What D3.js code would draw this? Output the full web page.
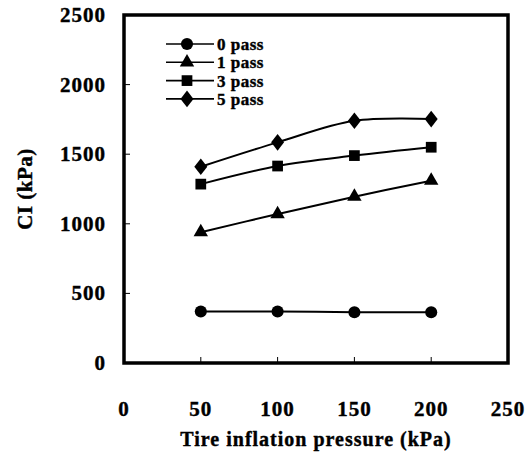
<!DOCTYPE html>
<html>
<head>
<meta charset="utf-8">
<script src="https://cdn.jsdelivr.net/npm/d3@7"></script>
<style>
  body { margin: 0; background: #fff; }
  text { font-family: "Liberation Serif", "DejaVu Serif", serif; font-weight: bold; fill: #000; stroke: #000; stroke-width: 0.4px; }
</style>
</head>
<body>
<svg width="529" height="455"></svg>
<script>
const pressure = [50, 100, 150, 200];
const pass0 = [370, 370, 365, 365];
const pass1 = [940, 1070, 1195, 1310];
const pass3 = [1285, 1415, 1490, 1550];
const pass5 = [1410, 1585, 1740, 1752];
const seriesNames = ['0pass', '1pass', '3pass', '5pass'];
const xTicks = [0, 50, 100, 150, 200, 250];
const yTicks = [0, 500, 1000, 1500, 2000, 2500];

const series = [pass0, pass1, pass3, pass5].map((vals, i) => ({
  name: seriesNames[i],
  values: vals.map((v, j) => ({x: pressure[j], y: v}))
}));

const svg = d3.select('svg');
const margin = {top: 15, right: 21, bottom: 92, left: 124};
const width = +svg.attr('width') - margin.left - margin.right;
const height = +svg.attr('height') - margin.top - margin.bottom;
const g = svg.append('g')
  .attr('transform', `translate(${margin.left},${margin.top})`);

const x = d3.scaleLinear().domain([0, 250]).range([0, width]);
const y = d3.scaleLinear().domain([0, 2500]).range([height, 0]);

const symbols = [
  d3.symbol().type(d3.symbolCircle).size(115),
  d3.symbol().type(d3.symbolTriangle).size(90),
  d3.symbol().type(d3.symbolSquare).size(115),
  d3.symbol().type(d3.symbolDiamond).size(80)
];
const symScale = ['', '', '', ' scale(1.35,1)'];

// frame
g.append('rect')
  .attr('width', width)
  .attr('height', height)
  .attr('fill', 'none')
  .attr('stroke', '#000')
  .attr('stroke-width', 3.5);

// inner ticks
g.selectAll('.xtick')
  .data(xTicks.slice(1, -1))
  .enter().append('line')
    .attr('x1', d => x(d)).attr('x2', d => x(d))
    .attr('y1', height).attr('y2', height - 6)
    .attr('stroke', '#000').attr('stroke-width', 1);
g.selectAll('.ytick')
  .data(yTicks.slice(1, -1))
  .enter().append('line')
    .attr('x1', 0).attr('x2', 6)
    .attr('y1', d => y(d)).attr('y2', d => y(d))
    .attr('stroke', '#000').attr('stroke-width', 1);

// tick labels
g.selectAll('.xlab')
  .data(xTicks)
  .enter().append('text')
    .attr('x', d => x(d))
    .attr('y', height + 53)
    .attr('text-anchor', 'middle')
    .attr('font-size', 21)
    .attr('letter-spacing', 1)
    .text(d => d);
g.selectAll('.ylab')
  .data(yTicks)
  .enter().append('text')
    .attr('x', -18)
    .attr('y', d => y(d) + 7)
    .attr('text-anchor', 'end')
    .attr('font-size', 21)
    .attr('letter-spacing', 1)
    .text(d => d);

// axis titles
g.append('text')
  .attr('x', width / 2)
  .attr('y', height + 83)
  .attr('text-anchor', 'middle')
  .attr('font-size', 20)
  .attr('letter-spacing', 1)
  .text('Tire inflation pressure (kPa)');
g.append('text')
  .attr('transform', `translate(${-92},${height / 2}) rotate(-90)`)
  .attr('text-anchor', 'middle')
  .attr('font-size', 21)
  .attr('letter-spacing', 0.5)
  .text('CI (kPa)');

// lines
const line = d3.line()
  .x(d => x(d.x))
  .y(d => y(d.y))
  .curve(d3.curveCatmullRom.alpha(0.5));

const sg = g.selectAll('.series')
  .data(series)
  .enter().append('g');

sg.append('path')
  .attr('d', d => line(d.values))
  .attr('fill', 'none')
  .attr('stroke', '#000')
  .attr('stroke-width', 2);

sg.each(function(s, i) {
  d3.select(this).selectAll('path.m')
    .data(s.values)
    .enter().append('path')
      .attr('class', 'm')
      .attr('transform', d => `translate(${x(d.x)},${y(d.y)})${symScale[i]}`)
      .attr('d', symbols[i]())
      .attr('fill', '#000');
});

// legend
const legend = g.append('g')
  .attr('transform', 'translate(42,29)');
const row = legend.selectAll('.row')
  .data(series)
  .enter().append('g')
    .attr('transform', (d, i) => `translate(0,${i * 18.3})`);
row.append('line')
  .attr('x1', 0).attr('x2', 48)
  .attr('stroke', '#000').attr('stroke-width', 1.6);
row.append('path')
  .attr('transform', (d, i) => `translate(21,0)${symScale[i]}`)
  .attr('d', (d, i) => symbols[i]())
  .attr('fill', '#000');
row.append('text')
  .attr('x', 51)
  .attr('y', 6)
  .attr('font-size', 17)
  .attr('letter-spacing', 0.5)
  .text(d => d.name.replace('pass', ' pass'));
</script>
</body>
</html>
